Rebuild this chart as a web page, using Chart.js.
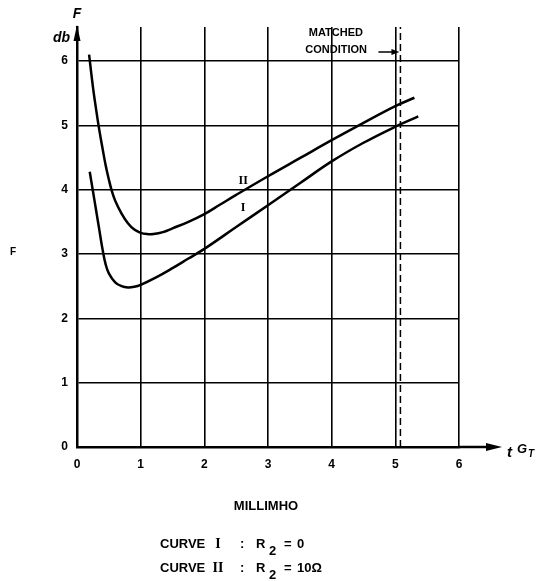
<!DOCTYPE html>
<html>
<head>
<meta charset="utf-8">
<title>Noise figure vs source conductance</title>
<script src="https://cdn.jsdelivr.net/npm/chart.js@4.4.1/dist/chart.umd.min.js"></script>
<style>
  html, body { margin: 0; padding: 0; background: #fff; }
  canvas { display: block; }
</style>
</head>
<body>
<canvas id="noiseChart" width="538" height="581"></canvas>
<script>
// curve I : R2 = 0
const curveIX = [0.2, 0.25, 0.3, 0.35, 0.4, 0.45, 0.5, 0.6, 0.7, 0.8, 0.9, 1.0, 1.25, 1.5, 1.75, 2.0, 2.5, 3.0, 3.5, 4.0, 4.5, 5.0, 5.36];
const curveIY = [4.28, 3.98, 3.68, 3.38, 3.08, 2.84, 2.7, 2.56, 2.5, 2.48, 2.49, 2.52, 2.64, 2.78, 2.93, 3.08, 3.42, 3.76, 4.1, 4.44, 4.73, 4.98, 5.14];

// curve II : R2 = 10 ohm
const curveIIX = [0.19, 0.25, 0.3, 0.35, 0.4, 0.45, 0.5, 0.55, 0.6, 0.7, 0.8, 0.9, 1.0, 1.1, 1.2, 1.35, 1.5, 1.75, 2.0, 2.25, 2.5, 3.0, 3.5, 4.0, 4.5, 5.0, 5.3];
const curveIIY = [6.1, 5.6, 5.25, 4.93, 4.65, 4.38, 4.16, 3.97, 3.83, 3.63, 3.48, 3.38, 3.33, 3.31, 3.31, 3.34, 3.4, 3.5, 3.62, 3.77, 3.92, 4.21, 4.49, 4.77, 5.04, 5.3, 5.43];

const xTicks = [0, 1, 2, 3, 4, 5, 6];
const yTicks = [0, 1, 2, 3, 4, 5, 6];
const yTop = 6.53;
const matchedG = 5.08;

const toPoints = (xs, ys) => xs.map((x, i) => ({ x: x, y: ys[i] }));

const tickFont = { family: '"Liberation Sans", Arial, sans-serif', size: 12, weight: 'bold' };

const annotations = {
    id: 'annotations',
    afterDraw(chart) {
        const ctx = chart.ctx;
        const area = chart.chartArea;
        const sx = chart.scales.x;
        const sy = chart.scales.y;
        ctx.save();
        ctx.fillStyle = '#000';
        ctx.strokeStyle = '#000';

        // x axis arrow
        ctx.lineWidth = 2.5;
        ctx.beginPath();
        ctx.moveTo(area.right, area.bottom);
        ctx.lineTo(area.right + 30, area.bottom);
        ctx.stroke();
        ctx.beginPath();
        ctx.moveTo(area.right + 43, area.bottom);
        ctx.lineTo(area.right + 27, area.bottom - 4);
        ctx.lineTo(area.right + 27, area.bottom + 4);
        ctx.closePath();
        ctx.fill();

        // y axis arrow
        ctx.beginPath();
        ctx.moveTo(area.left, area.top - 2);
        ctx.lineTo(area.left - 3.5, area.top + 14);
        ctx.lineTo(area.left + 3.5, area.top + 14);
        ctx.closePath();
        ctx.fill();

        // arrow pointing at the matched line
        const mx = sx.getPixelForValue(matchedG);
        ctx.lineWidth = 1.5;
        ctx.beginPath();
        ctx.moveTo(mx - 22, 52);
        ctx.lineTo(mx - 6, 52);
        ctx.stroke();
        ctx.beginPath();
        ctx.moveTo(mx - 1, 52);
        ctx.lineTo(mx - 9, 49);
        ctx.lineTo(mx - 9, 55);
        ctx.closePath();
        ctx.fill();

        const sans = '"Liberation Sans", Arial, sans-serif';
        const serif = '"Liberation Serif", "DejaVu Serif", serif';

        ctx.textBaseline = 'middle';
        ctx.font = 'bold 11px ' + sans;
        ctx.textAlign = 'right';
        ctx.fillText('MATCHED', 363, 33);
        ctx.fillText('CONDITION', 367, 50);

        // axis titles
        ctx.textAlign = 'center';
        ctx.font = 'italic bold 14px ' + sans;
        ctx.fillText('F', area.left, 14);
        ctx.textAlign = 'right';
        ctx.fillText('db', area.left - 7, 38);
        ctx.font = 'bold 10px ' + sans;
        ctx.textAlign = 'center';
        ctx.fillText('F', 13, 252);

        ctx.textAlign = 'left';
        ctx.font = 'italic bold 15px ' + sans;
        ctx.fillText('t', area.right + 48, 453);
        ctx.font = 'italic bold 13px ' + sans;
        ctx.fillText('G', area.right + 58, 449);
        ctx.font = 'italic bold 10px ' + sans;
        ctx.fillText('T', area.right + 69, 454);

        // curve labels
        ctx.textAlign = 'center';
        ctx.font = 'bold 12px ' + serif;
        ctx.fillText('II', sx.getPixelForValue(2.61), sy.getPixelForValue(4.14));
        ctx.fillText('I', sx.getPixelForValue(2.61), sy.getPixelForValue(3.71));

        // unit and legend
        ctx.font = 'bold 13px ' + sans;
        ctx.fillText('MILLIMHO', 266, 506);

        const legendRow = (y, numeral, value) => {
            ctx.textAlign = 'left';
            ctx.font = 'bold 13px ' + sans;
            ctx.fillText('CURVE', 160, y);
            ctx.font = 'bold 14px ' + serif;
            ctx.textAlign = 'center';
            ctx.fillText(numeral, 218, y);
            ctx.textAlign = 'left';
            ctx.font = 'bold 13px ' + sans;
            ctx.fillText(':', 240, y);
            ctx.fillText('R', 256, y);
            ctx.fillText('2', 269, y + 7);
            ctx.fillText('=', 284, y);
            ctx.fillText(value, 297, y);
        };
        legendRow(544, 'I', '0');
        legendRow(568, 'II', '10Ω');

        ctx.restore();
    }
};

new Chart(document.getElementById('noiseChart').getContext('2d'), {
    type: 'line',
    data: {
        datasets: [
            {
                label: 'I',
                data: toPoints(curveIX, curveIY),
                borderColor: '#000',
                borderWidth: 2.5,
                pointRadius: 0,
                tension: 0.4,
            },
            {
                label: 'II',
                data: toPoints(curveIIX, curveIIY),
                borderColor: '#000',
                borderWidth: 2.5,
                pointRadius: 0,
                tension: 0.4,
            },
            {
                label: 'matched condition',
                data: [{ x: matchedG, y: 0 }, { x: matchedG, y: yTop }],
                borderColor: '#000',
                borderWidth: 1.5,
                borderDash: [7, 4],
                pointRadius: 0,
            }
        ]
    },
    options: {
        responsive: false,
        animation: false,
        devicePixelRatio: 1,
        layout: { padding: { top: 27, right: 79, left: 0, bottom: 0 } },
        plugins: {
            legend: { display: false },
            tooltip: { enabled: false },
        },
        scales: {
            x: {
                type: 'linear',
                min: 0,
                max: 6,
                afterBuildTicks(scale) {
                    scale.ticks = xTicks.map(v => ({ value: v }));
                },
                afterFit(scale) {
                    scale.height = 134;
                },
                ticks: { color: '#000', font: tickFont, padding: 10, maxRotation: 0 },
                grid: { color: '#000', lineWidth: 1.6, drawTicks: false },
                border: { color: '#000', width: 2.5 },
            },
            y: {
                min: 0,
                max: yTop,
                afterBuildTicks(scale) {
                    scale.ticks = yTicks.map(v => ({ value: v }));
                },
                afterFit(scale) {
                    scale.width = 77;
                },
                ticks: { color: '#000', font: tickFont, padding: 9 },
                grid: { color: '#000', lineWidth: 1.6, drawTicks: false },
                border: { color: '#000', width: 2.5 },
            }
        }
    },
    plugins: [annotations],
});
</script>
</body>
</html>
